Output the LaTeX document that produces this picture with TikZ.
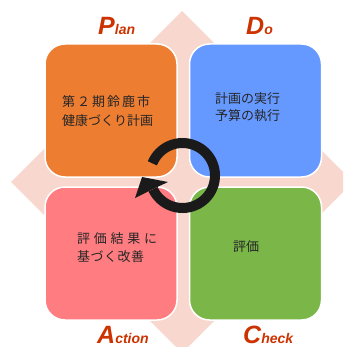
\documentclass[tikz,border=0pt]{standalone}
\usepackage{fontspec}
\setmainfont{Liberation Sans}
\newfontfamily\jp{Noto Sans CJK JP}
\definecolor{diamc}{HTML}{F8D8CE}
\definecolor{orangec}{HTML}{ED7D31}
\definecolor{bluec}{HTML}{6699FF}
\definecolor{pinkc}{HTML}{FF7C80}
\definecolor{greenc}{HTML}{7AB648}
\definecolor{lblc}{HTML}{CC3300}
\definecolor{txtc}{HTML}{262626}
\definecolor{ringc}{HTML}{1A1A1A}
\begin{document}
\begin{tikzpicture}[x=1pt,y=-1pt,
  box/.style={draw=white, line width=1.5pt, rounded corners=20pt,
    minimum width=132pt, minimum height=133pt, inner sep=0pt},
  jtxt/.style={font=\jp\fontsize{13}{13}\selectfont, text=txtc, inner sep=0pt, anchor=west},
  lbl/.style={font=\bfseries\itshape, text=lblc, inner sep=0pt, anchor=base west}]
\useasboundingbox (0,0) rectangle (343,347);
\fill[white] (0,0) rectangle (343,347);
\begin{scope}
\clip (0,0) rectangle (343,347);
\fill[diamc] (182,11) -- (353,182) -- (182,353) -- (11,182) -- cycle;
\end{scope}
% boxes
\node[box, fill=orangec] (plan) at (111,110.5) {};
\node[box, fill=bluec] (do) at (255.5,110.5) {};
\node[box, fill=pinkc] (act) at (111,253.5) {};
\node[box, fill=greenc] (chk) at (255.5,253.5) {};
% texts
\node[jtxt] (p1) at (62,102) {\makebox[88pt][s]{第\hfill ２\hfill 期\hfill 鈴\hfill 鹿\hfill 市}};
\node[jtxt] (p2) at (62,121) {健康づくり計画};
\node[jtxt] (d1) at (215,99) {計画の実行};
\node[jtxt] (d2) at (215,116) {予算の執行};
\node[jtxt] (a1) at (77,239) {\makebox[80pt][s]{評\hfill 価\hfill 結\hfill 果\hfill に}};
\node[jtxt] (a2) at (77,257) {\makebox[67pt][s]{基\hfill づ\hfill く\hfill 改\hfill 善}};
\node[jtxt] (c1) at (233,247) {評価};
% labels
\node[lbl] (lp) at (98,35) {\fontsize{25}{25}\selectfont P\fontsize{14}{14}\selectfont lan};
\node[lbl] (ld) at (246,35) {\fontsize{25}{25}\selectfont D\fontsize{14}{14}\selectfont o};
\node[lbl] (la) at (97,343) {\fontsize{25}{25}\selectfont A\fontsize{14}{14}\selectfont ction};
\node[lbl] (lc) at (243,343) {\fontsize{25}{25}\selectfont C\fontsize{14}{14}\selectfont heck};
% cycle arrow
\coordinate (cc) at (182.5,175.5);
\draw[ringc, line width=10pt] (cc) ++(-158:32.5) arc[start angle=-158, end angle=155, radius=32.5];
\fill[ringc] (142,177) -- (135,198) -- (153,189) -- (168,182) -- cycle;
\end{tikzpicture}
\end{document}
